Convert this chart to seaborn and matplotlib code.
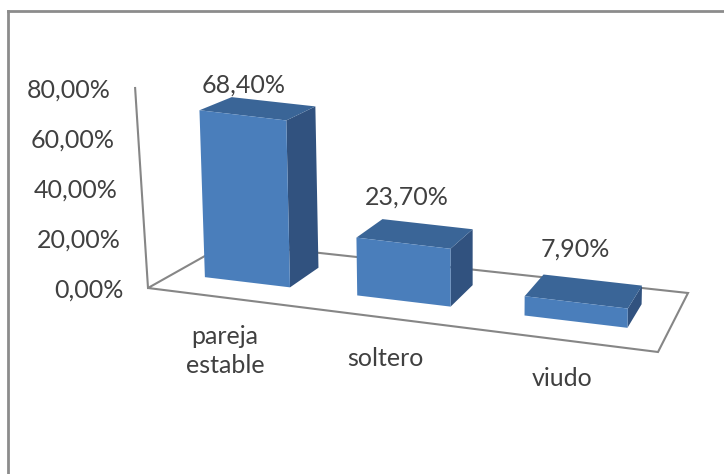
import matplotlib
matplotlib.use("Agg")
import matplotlib.pyplot as plt
import numpy as np
import pandas as pd
import seaborn as sns
from matplotlib.lines import Line2D
from matplotlib.patches import Polygon
from matplotlib.transforms import Affine2D, Transform

categories = ["pareja\nestable", "soltero", "viudo"]
values = [68.4, 23.7, 7.9]
value_labels = ["68,40%", "23,70%", "7,90%"]
ticks = [0, 20, 40, 60, 80]
tick_labels = ["0,00%", "20,00%", "40,00%", "60,00%", "80,00%"]

W, H = 724, 474
FRONT, SIDE, TOP = "#4a7ebb", "#31527f", "#3a6597"
TEXT = "#404040"
GREY = "#868686"

# floor corners in pixels, (x, depth): (-.5,0) (2.5,0) (2.5,1) (-.5,1)
src = np.array([[-0.5, 0], [2.5, 0], [2.5, 1], [-0.5, 1]], float)
dst = np.array([[148, 288], [658, 352], [688, 293], [228, 243]], float)


def fit_homography(a, b):
    rows, rhs = [], []
    for (x, y), (u, v) in zip(a, b):
        rows.append([x, y, 1, 0, 0, 0, -u * x, -u * y])
        rows.append([0, 0, 0, x, y, 1, -v * x, -v * y])
        rhs += [u, v]
    return np.append(np.linalg.solve(np.array(rows), np.array(rhs)), 1).reshape(3, 3)


HOMO = fit_homography(src, dst)


def project(x, v, d, tilt=0.0003):
    # category position, percent value, depth -> image pixels
    p = HOMO @ np.array([x, d, 1.0])
    px, py = p[0] / p[2], p[1] / p[2]
    return px + v * tilt * (px - 470), py - v * (2.5 - 0.2 * d)


class Floor(Transform):
    input_dims = output_dims = 2

    def __init__(self, floor_depth):
        super().__init__()
        self.floor_depth = floor_depth

    def transform_non_affine(self, values):
        return np.array([project(x, v, self.floor_depth) for x, v in values])


pixels = Affine2D().scale(1, -1).translate(0, H)
D0, D1 = 0.30, 0.71

plt.rcParams["font.family"] = ["Lato", "DejaVu Sans"]
df = pd.DataFrame({"estado": categories, "pct": values})

fig = plt.figure(figsize=(W / 100, H / 100), dpi=100)
ax = fig.add_axes([0, 0, 1, 1])
sns.barplot(data=df, x="estado", y="pct", color=FRONT, saturation=1, width=0.57, ax=ax)
ax.axis("off")
ax.set_xlim(-0.5, 2.5)
ax.set_ylim(0, 80)

# outer frame, no right or bottom edge in the crop
for xs, ys in [((8, 8), (11, 474)), ((8, 724), (11, 11))]:
    ax.add_line(Line2D(xs, ys, color="#8c8c8c", lw=2, transform=pixels))

# floor and value axis
corners = [project(-0.5, 0, 0), project(2.5, 0, 0), project(2.5, 0, 1), project(-0.5, 0, 1)]
ax.add_patch(Polygon(corners, closed=True, fill=False, ec=GREY, lw=1.5, transform=pixels, zorder=1))
top_axis = project(-0.5, 80, 0, tilt=0.0005)
ax.add_line(Line2D([corners[0][0], top_axis[0]], [corners[0][1], top_axis[1]], color=GREY, lw=1.5,
                   transform=pixels, zorder=1))

for rect in list(ax.patches):
    if not hasattr(rect, "get_width"):
        continue
    x0, x1, v = rect.get_x(), rect.get_x() + rect.get_width(), rect.get_height()
    rect.set_transform(Floor(D0) + pixels)
    rect.set_zorder(4)
    side = [project(x1, 0, D0), project(x1, v, D0), project(x1, v, D1), project(x1, 0, D1)]
    top = [project(x0, v, D0), project(x1, v, D0), project(x1, v, D1), project(x0, v, D1)]
    ax.add_patch(Polygon(side, closed=True, fc=SIDE, ec="none", transform=pixels, zorder=3))
    ax.add_patch(Polygon(top, closed=True, fc=TOP, ec="none", transform=pixels, zorder=3))

for t, label in zip(ticks, tick_labels):
    px, py = project(-0.5, t, 0, tilt=0.0005)
    ax.text(px - 24, py + 2, label, ha="right", va="center", fontsize=18, color=TEXT, transform=pixels)

label_pos = [(244, 85), (407, 197), (575, 249)]
for (px, py), label in zip(label_pos, value_labels):
    ax.text(px, py, label, ha="center", va="center", fontsize=18, color=TEXT, transform=pixels)

cat_pos = [(225, 351), (385, 358), (562, 378)]
for (px, py), label in zip(cat_pos, categories):
    ax.text(px, py, label, ha="center", va="center", fontsize=18, color=TEXT, linespacing=1.3,
            transform=pixels)

fig.savefig("out.png", dpi=100)
